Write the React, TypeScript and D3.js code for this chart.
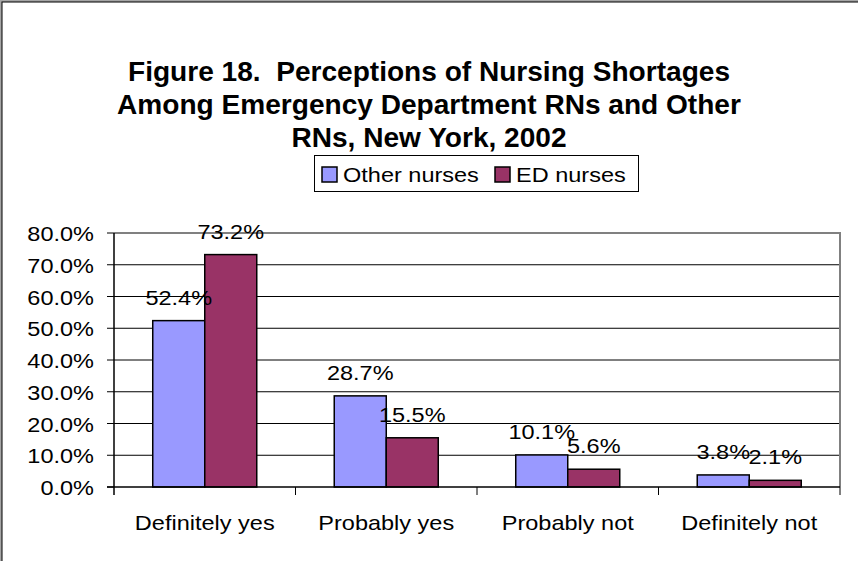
import React, { useEffect, useRef } from "react";
import * as d3 from "d3";

const categories = ["Definitely yes", "Probably yes", "Probably not", "Definitely not"];
const seriesNames = ["Other nurses", "ED nurses"];
const otherNurses = [0.524, 0.287, 0.101, 0.038];
const edNurses = [0.732, 0.155, 0.056, 0.021];
const yTicks = [0, 0.1, 0.2, 0.3, 0.4, 0.5, 0.6, 0.7, 0.8];
const titleLines = [
    "Figure 18.  Perceptions of Nursing Shortages",
    "Among Emergency Department RNs and Other",
    "RNs, New York, 2002",
];
const colors = ["#9999FF", "#993366"];

const App = () => {
    const svgRef = useRef<SVGSVGElement>(null);

    useEffect(() => {
        document.body.style.margin = "0";
        const width = 858;
        const height = 561;
        const plot = { left: 114, right: 840, top: 233, bottom: 487 };
        const font = "'Liberation Sans', Arial, sans-serif";

        const svg = d3.select(svgRef.current)
            .attr("width", width)
            .attr("height", height);
        svg.selectAll("*").remove();

        // frame
        svg.append("rect").attr("width", width).attr("height", height).attr("fill", "#a6a6a6");
        svg.append("rect").attr("x", 2).attr("y", 2).attr("width", width).attr("height", height)
            .attr("fill", "#fff").attr("stroke", "#000").attr("stroke-width", 1);

        // the reference text is drawn a little wide, hence the x scale
        const addText = (x: number, y: number, s: string, size: number, anchor: string, bold = false, sx = 1.12) =>
            svg.append("text")
                .attr("transform", `translate(${x},${y}) scale(${sx},1)`)
                .attr("text-anchor", anchor)
                .attr("font-family", font)
                .attr("font-size", size)
                .attr("font-weight", bold ? "bold" : "normal")
                .attr("fill", "#000")
                .style("white-space", "pre")
                .text(s);

        // title
        titleLines.forEach((t, i) => addText(width / 2, 81 + i * 33, t, 27, "middle", true, 1.04));

        // scales
        const x0 = d3.scaleBand().domain(categories).range([plot.left, plot.right]).padding(0);
        const x1 = d3.scaleBand().domain(seriesNames).range([0, x0.bandwidth()])
            .paddingInner(0).paddingOuter(0.745);
        const y = d3.scaleLinear().domain([0, 0.8]).range([plot.bottom, plot.top]);
        const fmt = d3.format(".1%");

        // gridlines
        svg.append("g").selectAll("line").data(yTicks.slice(1, -1)).enter().append("line")
            .attr("x1", plot.left).attr("x2", plot.right)
            .attr("y1", (d) => y(d)).attr("y2", (d) => y(d))
            .attr("stroke", "#000").attr("stroke-width", 1);

        // plot border top/right
        svg.append("path")
            .attr("d", `M${plot.left},${plot.top}H${plot.right}V${plot.bottom}`)
            .attr("fill", "none").attr("stroke", "#808080").attr("stroke-width", 2);

        // bars
        const data = categories.map((c, i) => ({ c, values: [otherNurses[i], edNurses[i]] }));
        const groups = svg.append("g").selectAll("g").data(data).enter().append("g")
            .attr("transform", (d) => `translate(${x0(d.c)},0)`);
        groups.selectAll("rect")
            .data((d) => d.values.map((v, j) => ({ s: seriesNames[j], v, j })))
            .enter().append("rect")
            .attr("x", (d) => x1(d.s) as number)
            .attr("y", (d) => y(d.v))
            .attr("width", x1.bandwidth())
            .attr("height", (d) => plot.bottom - y(d.v))
            .attr("fill", (d) => colors[d.j])
            .attr("stroke", "#000").attr("stroke-width", 1.5);

        // axes
        svg.append("line").attr("x1", plot.left).attr("x2", plot.left)
            .attr("y1", plot.top).attr("y2", plot.bottom + 8).attr("stroke", "#000").attr("stroke-width", 1.5);
        svg.append("line").attr("x1", plot.left - 7).attr("x2", plot.right)
            .attr("y1", plot.bottom).attr("y2", plot.bottom).attr("stroke", "#000").attr("stroke-width", 1.5);
        yTicks.forEach((t) => {
            svg.append("line").attr("x1", plot.left - 7).attr("x2", plot.left)
                .attr("y1", y(t)).attr("y2", y(t)).attr("stroke", "#000");
            addText(94, y(t) + 8, fmt(t), 21, "end");
        });
        categories.forEach((c) => {
            const xe = (x0(c) as number) + x0.bandwidth();
            svg.append("line").attr("x1", xe).attr("x2", xe)
                .attr("y1", plot.bottom).attr("y2", plot.bottom + 8).attr("stroke", "#000");
            addText((x0(c) as number) + x0.bandwidth() / 2, 530, c, 21, "middle");
        });

        // data labels
        data.forEach((d) => {
            d.values.forEach((v, j) => {
                const cx = (x0(d.c) as number) + (x1(seriesNames[j]) as number) + x1.bandwidth() / 2;
                addText(cx, y(v) - 16, fmt(v), 21, "middle");
            });
        });

        // legend
        const lg = { x: 314, y: 155, w: 324, h: 36 };
        svg.append("rect").attr("x", lg.x + 0.5).attr("y", lg.y + 0.5).attr("width", lg.w).attr("height", lg.h)
            .attr("fill", "#fff").attr("stroke", "#000");
        const legendX = [322, 495];
        seriesNames.forEach((s, j) => {
            svg.append("rect").attr("x", legendX[j]).attr("y", 167).attr("width", 15).attr("height", 15)
                .attr("fill", colors[j]).attr("stroke", "#000").attr("stroke-width", 1.5);
            addText(legendX[j] + 21, 182, s, 21, "start");
        });
    }, []);

    return (
        <div>
            <svg ref={svgRef} style={{ display: "block" }}></svg>
        </div>
    );
};

export default App;
